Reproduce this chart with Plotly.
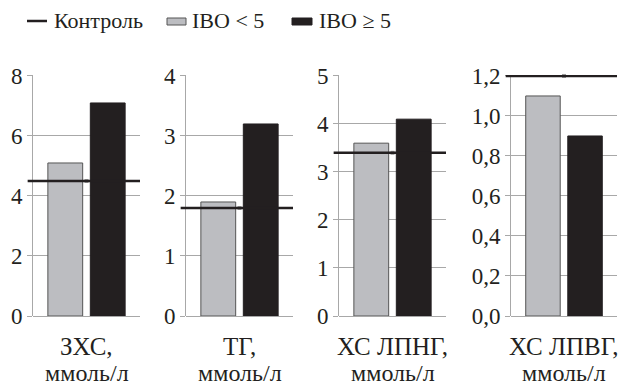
import plotly.graph_objects as go

# ---- data ----
categories = ["ЗХС,", "ТГ,", "ХС ЛПНГ,", "ХС ЛПВГ,"]
unit = "ммоль/л"
control = [4.5, 1.8, 3.4, 1.2]
ibo_lt5 = [5.1, 1.9, 3.6, 1.1]
ibo_ge5 = [7.1, 3.2, 4.1, 0.9]
y_max = [8, 4, 5, 1.2]
y_step = [2, 1, 1, 0.2]
tick_fmt = ["d", "d", "d", ".1f"]
series_names = ["Контроль", "IBO < 5", "IBO ≥ 5"]

W, H = 630, 387
FONT = "Liberation Serif"
FS = 23
TXT = "#231f20"
GREY_BAR = "#bcbdc1"
BLACK_BAR = "#231f20"
GRID = "#a8a8a8"

# panel pixel extents (left, right)
panels_px = [(33, 140), (186, 293), (339, 446), (511, 617)]
y_top_px, y_bot_px = 75, 316

fig = go.Figure()
layout = dict(
    width=W, height=H,
    margin=dict(l=0, r=0, t=0, b=0, pad=0, autoexpand=False),
    paper_bgcolor="white", plot_bgcolor="white",
    showlegend=False,
    separators=", ",
    font=dict(family=FONT, size=FS, color=TXT),
    bargap=0, barmode="overlay",
)

shapes = []
annotations = []
for i in range(4):
    s = "" if i == 0 else str(i + 1)
    xa, ya = "x" + s, "y" + s
    fig.add_trace(go.Bar(x=[0], y=[ibo_lt5[i]], width=0.82, name=series_names[1],
                         marker=dict(color=GREY_BAR, line=dict(color="#555555", width=1)),
                         xaxis=xa, yaxis=ya))
    fig.add_trace(go.Bar(x=[1], y=[ibo_ge5[i]], width=0.82, name=series_names[2],
                         marker=dict(color=BLACK_BAR, line=dict(color=BLACK_BAR, width=1)),
                         xaxis=xa, yaxis=ya))
    shapes.append(dict(type="line", xref=xa + " domain", yref=ya,
                       x0=-0.05, x1=1.0, y0=control[i], y1=control[i],
                       line=dict(color=TXT, width=2.5), layer="above"))
    fig.add_trace(go.Scatter(x=[0.5], y=[control[i]], mode="markers", name=series_names[0],
                             marker=dict(symbol="square", size=4, color="#9a9a9a"),
                             cliponaxis=False, xaxis=xa, yaxis=ya))
    l, r = panels_px[i]
    layout["xaxis" + s] = dict(domain=[l / W, r / W], range=[-0.76, 1.76],
                               showticklabels=False, showgrid=False, zeroline=False,
                               showline=False, ticks="", fixedrange=True,
                               automargin=False, anchor=ya)
    layout["yaxis" + s] = dict(domain=[(H - y_bot_px) / H, (H - y_top_px) / H],
                               range=[0, y_max[i] * 1.004], dtick=y_step[i], tick0=0,
                               tickformat=tick_fmt[i],
                               showgrid=True, gridcolor=GRID, gridwidth=1,
                               zeroline=True, zerolinecolor=GRID, zerolinewidth=1,
                               showline=True, linecolor=GRID, linewidth=1,
                               ticks="outside", ticklen=5, tickcolor=GRID, tickwidth=1,
                               tickfont=dict(family=FONT, size=FS, color=TXT),
                               fixedrange=True, automargin=False, anchor=xa)
    annotations.append(dict(xref=xa + " domain", yref="paper", x=0.5, y=(H - 346) / H,
                            xanchor="center", yanchor="middle", showarrow=False,
                            text=categories[i],
                            font=dict(family=FONT, size=25, color=TXT)))
    annotations.append(dict(xref=xa + " domain", yref="paper", x=0.5, y=(H - 373) / H,
                            xanchor="center", yanchor="middle", showarrow=False,
                            text=unit,
                            font=dict(family=FONT, size=24, color=TXT)))

# custom legend
ly = (H - 21) / H
shapes.append(dict(type="line", xref="paper", yref="paper", x0=27 / W, x1=47 / W, y0=ly, y1=ly,
                   line=dict(color=TXT, width=2.5)))
shapes.append(dict(type="rect", xref="paper", yref="paper", x0=167 / W, x1=186 / W,
                   y0=(H - 25) / H, y1=(H - 18) / H, fillcolor=GREY_BAR,
                   line=dict(color="#555555", width=1)))
shapes.append(dict(type="rect", xref="paper", yref="paper", x0=292 / W, x1=312 / W,
                   y0=(H - 25) / H, y1=(H - 18) / H, fillcolor=BLACK_BAR,
                   line=dict(color=BLACK_BAR, width=1)))
for xpx, name in zip([52, 190, 317], series_names):
    annotations.append(dict(xref="paper", yref="paper", x=xpx / W, y=ly, xanchor="left",
                            yanchor="middle", showarrow=False, text=name,
                            font=dict(family=FONT, size=22, color=TXT)))

layout["shapes"] = shapes
layout["annotations"] = annotations
fig.update_layout(**layout)
fig.write_html("out.html",
               config={"displayModeBar": False, "staticPlot": True},
               post_script="document.body.style.margin='0';document.body.style.padding='0';")
